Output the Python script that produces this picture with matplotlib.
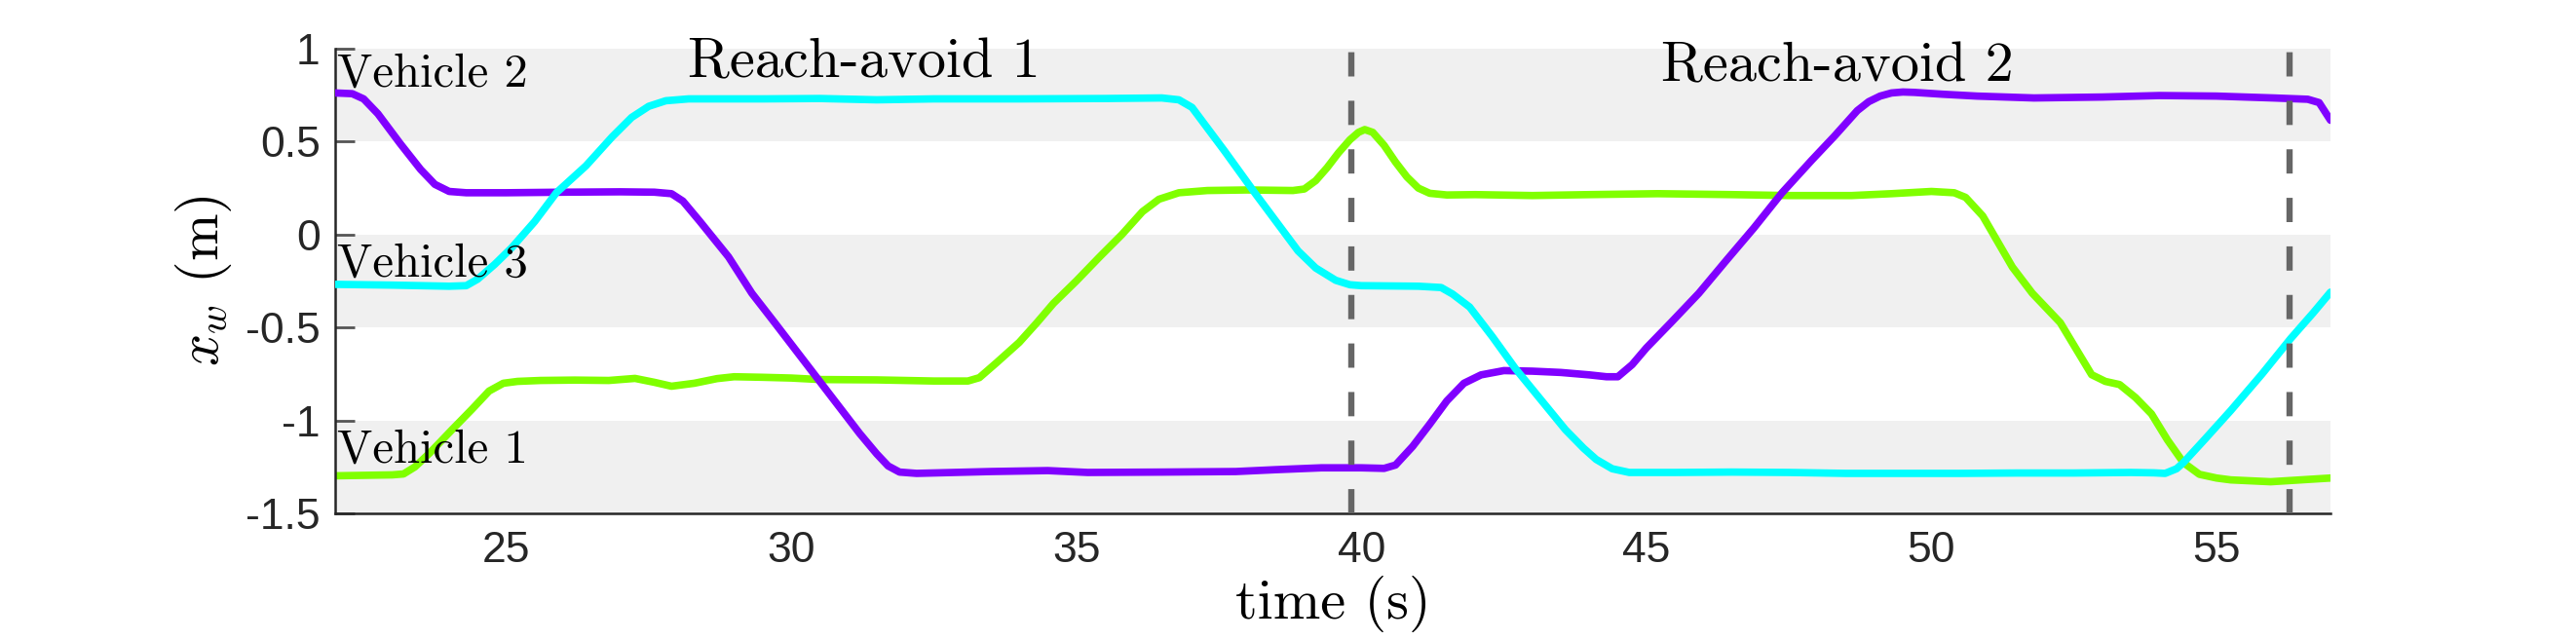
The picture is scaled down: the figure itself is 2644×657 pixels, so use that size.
import matplotlib
matplotlib.use("Agg")
import matplotlib.pyplot as plt

plt.rcParams['mathtext.fontset'] = 'cm'

# ---------------- data ----------------
# Vehicle 1 (green)
t_v1 = [22.0, 23.0, 23.2, 23.4, 23.66, 24.05, 24.4, 24.7, 24.95, 25.2, 25.6, 26.2, 26.8,
        27.26, 27.6, 27.9, 28.3, 28.7, 29.0, 29.5, 30.0, 30.5, 31.5, 32.5, 33.1, 33.3,
        33.6, 34.0, 34.31, 34.6, 35.0, 35.4, 35.8, 36.16, 36.45, 36.8, 37.3, 38.0, 38.8,
        39.0, 39.2, 39.4, 39.6, 39.8, 39.95, 40.06, 40.2, 40.4, 40.6, 40.8, 41.0, 41.2,
        41.5, 42.0, 43.0, 44.0, 45.2, 46.5, 47.5, 48.6, 49.3, 50.0, 50.4, 50.6, 50.9,
        51.42, 51.77, 52.26, 52.81, 53.05, 53.3, 53.58, 53.86, 54.14, 54.42, 54.7, 55.0,
        55.25, 55.95, 57.0]
x_v1 = [-1.298, -1.293, -1.288, -1.25, -1.175, -1.05, -0.94, -0.842, -0.80, -0.79, -0.785,
        -0.783, -0.785, -0.774, -0.795, -0.816, -0.80, -0.775, -0.765, -0.768, -0.772,
        -0.78, -0.782, -0.788, -0.788, -0.77, -0.69, -0.58, -0.474, -0.37, -0.25, -0.123,
        0.0, 0.123, 0.19, 0.225, 0.237, 0.24, 0.237, 0.245, 0.29, 0.36, 0.44, 0.51, 0.55,
        0.565, 0.55, 0.48, 0.39, 0.31, 0.25, 0.222, 0.213, 0.215, 0.21, 0.215, 0.22,
        0.215, 0.21, 0.21, 0.22, 0.232, 0.225, 0.20, 0.10, -0.175, -0.316, -0.474, -0.754,
        -0.79, -0.807, -0.877, -0.965, -1.105, -1.227, -1.29, -1.31, -1.32, -1.33, -1.31]

# Vehicle 2 (purple)
t_v2 = [22.0, 22.3, 22.5, 22.75, 23.14, 23.5, 23.75, 24.0, 24.3, 25.0, 26.0, 27.0, 27.6,
        27.9, 28.1, 28.4, 28.9, 29.31, 29.71, 30.2, 30.7, 31.2, 31.5, 31.7, 31.9, 32.2,
        33.5, 34.5, 35.2, 36.5, 37.8, 38.5, 39.3, 40.0, 40.4, 40.6, 40.9, 41.2, 41.5,
        41.8, 42.1, 42.5, 43.0, 43.5, 44.0, 44.3, 44.5, 44.75, 45.0, 45.43, 45.92, 46.4,
        46.89, 47.38, 47.9, 48.3, 48.7, 48.9, 49.1, 49.3, 49.5, 49.7, 50.2, 50.8, 51.8,
        53.0, 54.0, 55.0, 56.0, 56.6, 56.8, 57.0]
x_v2 = [0.762, 0.758, 0.73, 0.65, 0.49, 0.35, 0.27, 0.232, 0.225, 0.225, 0.228, 0.23, 0.228,
        0.22, 0.18, 0.07, -0.12, -0.316, -0.474, -0.67, -0.87, -1.07, -1.18, -1.245,
        -1.278, -1.285, -1.275, -1.27, -1.28, -1.278, -1.275, -1.265, -1.255, -1.255,
        -1.258, -1.24, -1.14, -1.02, -0.895, -0.80, -0.755, -0.732, -0.735, -0.742, -0.755,
        -0.765, -0.765, -0.70, -0.61, -0.474, -0.316, -0.14, 0.037, 0.225, 0.40, 0.53,
        0.667, 0.715, 0.745, 0.762, 0.767, 0.765, 0.755, 0.745, 0.735, 0.74, 0.748, 0.745,
        0.735, 0.728, 0.71, 0.615]

# Vehicle 3 (cyan)
t_v3 = [22.0, 23.0, 24.0, 24.3, 24.5, 24.8, 25.1, 25.5, 25.88, 26.4, 26.86, 27.2, 27.5,
        27.8, 28.2, 29.5, 30.5, 31.5, 32.5, 34.0, 35.5, 36.5, 36.8, 37.03, 37.6, 38.13,
        38.89, 39.2, 39.55, 39.8, 40.0, 41.0, 41.4, 41.6, 41.9, 42.3, 42.7, 43.1, 43.58,
        43.9, 44.12, 44.4, 44.7, 45.5, 46.5, 47.5, 48.5, 49.5, 50.5, 51.5, 52.5, 53.5,
        53.9, 54.1, 54.3, 54.42, 54.8, 55.25, 55.8, 56.3, 56.7, 57.0]
x_v3 = [-0.268, -0.272, -0.278, -0.275, -0.24, -0.16, -0.07, 0.07, 0.225, 0.37, 0.526, 0.63,
        0.69, 0.72, 0.73, 0.73, 0.732, 0.725, 0.73, 0.73, 0.732, 0.735, 0.725, 0.684,
        0.45, 0.225, -0.088, -0.18, -0.246, -0.27, -0.275, -0.278, -0.285, -0.32, -0.39,
        -0.55, -0.72, -0.87, -1.05, -1.15, -1.21, -1.26, -1.28, -1.28, -1.278, -1.28,
        -1.285, -1.285, -1.285, -1.283, -1.283, -1.28, -1.282, -1.285, -1.26, -1.227,
        -1.10, -0.947, -0.75, -0.56, -0.42, -0.31]

series_names = ['Vehicle 1', 'Vehicle 2', 'Vehicle 3']
phase_names = ['Reach-avoid 1', 'Reach-avoid 2']
phase_ends = [39.82, 56.29]
band_lo = [0.5, -0.5, -1.5]
band_hi = [1.0, 0.0, -1.0]
yticks = [-1.5, -1, -0.5, 0, 0.5, 1]
ytick_labels = ['-1.5', '-1', '-0.5', '0', '0.5', '1']
xticks = [25, 30, 35, 40, 45, 50, 55]
xtick_labels = ['25', '30', '35', '40', '45', '50', '55']

# ---------------- figure ----------------
fig = plt.figure(figsize=(13.22, 3.285), dpi=200)
ax = fig.add_axes([0.1301, 0.1979, 0.9047 - 0.1301, 0.9239 - 0.1979])

for lo, hi in zip(band_lo, band_hi):
    ax.axhspan(lo, hi, color='#f0f0f0', lw=0, zorder=0)

lw = 2.75
ax.plot(t_v1, x_v1, color='#80ff00', lw=lw, solid_capstyle='round', solid_joinstyle='round', zorder=2)
ax.plot(t_v2, x_v2, color='#8000ff', lw=lw, solid_capstyle='round', solid_joinstyle='round', zorder=3)
ax.plot(t_v3, x_v3, color='#00ffff', lw=lw, solid_capstyle='round', solid_joinstyle='round', zorder=4)

for xe in phase_ends:
    ax.axvline(xe, color='#666666', lw=2.3, dashes=(3.9, 3.9), zorder=5)

ax.set_xlim(22, 57)
ax.set_ylim(-1.5, 1)

ax.set_yticks(yticks)
ax.set_yticklabels(ytick_labels, family='Liberation Sans', fontsize=16, color='#262626')
ax.set_xticks(xticks)
ax.set_xticklabels(xtick_labels, family='Liberation Sans', fontsize=16, color='#262626')
ax.tick_params(axis='y', direction='in', length=7.2, width=1.0, color='#555555', pad=5.5)
ax.tick_params(axis='x', length=0, pad=6.5)

for s in ['top', 'right']:
    ax.spines[s].set_visible(False)
for s in ['left', 'bottom']:
    ax.spines[s].set_color('#262626')
    ax.spines[s].set_linewidth(0.9)

tf = dict(family='cmr10', color='black')
ax.text(22.04, 0.80, series_names[1], fontsize=17.5, ha='left', va='baseline', zorder=6, **tf)
ax.text(22.04, -0.226, series_names[2], fontsize=17.5, ha='left', va='baseline', zorder=6, **tf)
ax.text(22.04, -1.228, series_names[0], fontsize=17.5, ha='left', va='baseline', zorder=6, **tf)
ax.text(28.18, 0.846, phase_names[0], fontsize=21, ha='left', va='baseline', zorder=6, **tf)
ax.text(45.26, 0.825, phase_names[1], fontsize=21, ha='left', va='baseline', zorder=6, **tf)

ax.set_xlabel('time (s)', fontsize=21, **tf)
ax.xaxis.label.set_va('baseline')
ax.xaxis.set_label_coords(0.5, -0.226)
ax.set_ylabel(r'$x_w$ (m)', fontsize=21, **tf)
ax.yaxis.set_label_coords(-0.051, 0.5)

fig.savefig('out.png', dpi=200, facecolor='white')
